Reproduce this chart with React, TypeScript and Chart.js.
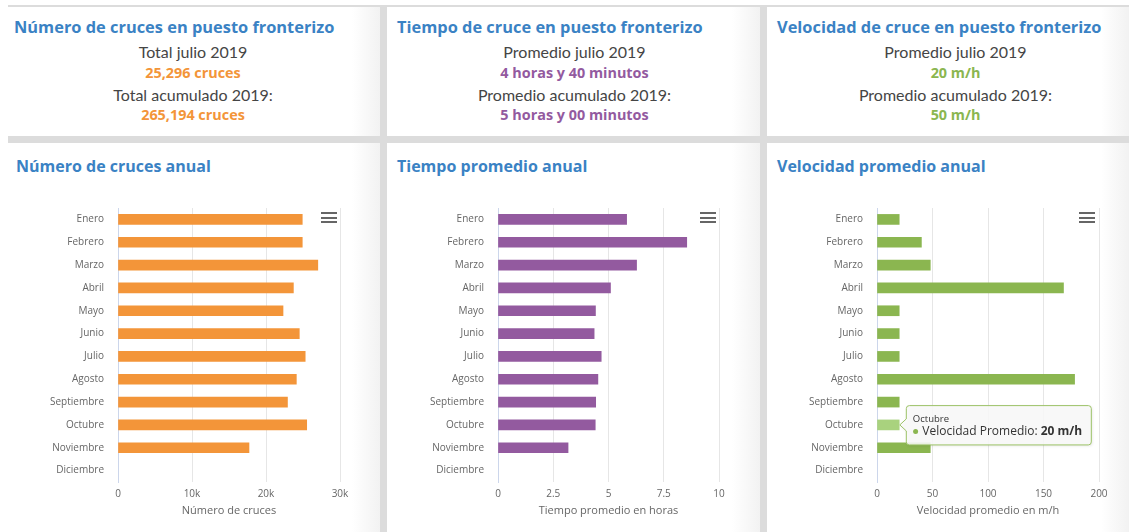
import React, { useEffect, useRef } from "react";
import { Chart, registerables } from "chart.js";

Chart.register(...registerables);

// ---------- data ----------
const months = [
  "Enero", "Febrero", "Marzo", "Abril", "Mayo", "Junio",
  "Julio", "Agosto", "Septiembre", "Octubre", "Noviembre", "Diciembre",
];

const crucesValues = [24900, 24900, 27000, 23700, 22300, 24500, 25296, 24100, 22900, 25500, 17700, null];
const tiempoValues = [5.82, 8.54, 6.27, 5.09, 4.41, 4.35, 4.67, 4.52, 4.42, 4.4, 3.17, null];
const velocidadValues = [20, 40, 48, 168, 20, 20, 20, 178, 20, 20, 48, null];

const crucesTickLabels = ["0", "10k", "20k", "30k"];
const tiempoTickLabels = ["0", "2.5", "5", "7.5", "10"];
const velocidadTickLabels = ["0", "50", "100", "150", "200"];

const tooltipMonthIndex = 9;
const tooltipSeriesName = "Velocidad Promedio";
const tooltipUnit = "m/h";

// ---------- styles ----------
const FONT = "'Open Sans', 'DejaVu Sans', sans-serif";
const CARD_FONT = "Lato, 'Open Sans', sans-serif";
const BLUE = "#3a82c4";
const TEXT = "#454545";

const ORANGE = "#f39539";
const PURPLE = "#935a9f";
const GREEN = "#8bb650";
const GREEN_HOVER = "#a9d27e";

type PanelCfg = {
  values: (number | null)[];
  colors: string | string[];
  max: number;
  step: number;
  tickLabels: string[];
  title: string;
  withTooltip?: boolean;
};

const tipPlugin = {
  id: "fixedTip",
  afterDraw(chart: any) {
    const meta = chart.getDatasetMeta(0);
    const el = meta.data[tooltipMonthIndex];
    if (!el) return;
    const value = chart.data.datasets[0].data[tooltipMonthIndex];
    const ctx: CanvasRenderingContext2D = chart.ctx;
    const tipX = el.x + 0.6;
    const tipY = el.y;
    const bx = tipX + 6.5;
    const by = tipY - 19.3;
    const bw = 185;
    const bh = 39.3;
    const r = 3;
    ctx.save();
    ctx.beginPath();
    ctx.moveTo(bx + r, by);
    ctx.lineTo(bx + bw - r, by);
    ctx.arcTo(bx + bw, by, bx + bw, by + r, r);
    ctx.lineTo(bx + bw, by + bh - r);
    ctx.arcTo(bx + bw, by + bh, bx + bw - r, by + bh, r);
    ctx.lineTo(bx + r, by + bh);
    ctx.arcTo(bx, by + bh, bx, by + bh - r, r);
    ctx.lineTo(bx, tipY + 6);
    ctx.lineTo(tipX, tipY);
    ctx.lineTo(bx, tipY - 6);
    ctx.lineTo(bx, by + r);
    ctx.arcTo(bx, by, bx + r, by, r);
    ctx.closePath();
    ctx.shadowColor = "rgba(0,0,0,0.12)";
    ctx.shadowBlur = 3;
    ctx.shadowOffsetX = 1;
    ctx.shadowOffsetY = 1;
    ctx.fillStyle = "rgba(250,250,250,0.88)";
    ctx.fill();
    ctx.shadowColor = "transparent";
    ctx.strokeStyle = "#9cc266";
    ctx.lineWidth = 1;
    ctx.stroke();

    ctx.textBaseline = "middle";
    ctx.textAlign = "left";
    ctx.fillStyle = "#333";
    ctx.font = `9.5px ${FONT}`;
    ctx.fillText(chart.data.labels[tooltipMonthIndex], bx + 6.5, tipY - 5.3);

    ctx.beginPath();
    ctx.fillStyle = GREEN;
    ctx.arc(bx + 9.3, tipY + 6.6, 2.5, 0, Math.PI * 2);
    ctx.fill();

    ctx.fillStyle = "#333";
    ctx.font = `12px ${FONT}`;
    const label = `${tooltipSeriesName}: `;
    ctx.fillText(label, bx + 16, tipY + 6.6);
    const w = ctx.measureText(label).width;
    ctx.font = `bold 12px ${FONT}`;
    ctx.fillText(`${value} ${tooltipUnit}`, bx + 16 + w, tipY + 6.6);
    ctx.restore();
  },
};

function BarPanel(props: PanelCfg & { left: number; top: number; width: number; height: number }) {
  const ref = useRef<HTMLCanvasElement | null>(null);
  useEffect(() => {
    if (!ref.current) return;
    const p = props;
    const chart = new Chart(ref.current, {
      type: "bar",
      data: {
        labels: months,
        datasets: [
          {
            data: p.values as any,
            backgroundColor: p.colors as any,
            borderWidth: 0,
            barThickness: 10,
          },
        ],
      },
      options: {
        indexAxis: "y",
        animation: false,
        responsive: false,
        maintainAspectRatio: false,
        events: [],
        layout: { padding: { top: 18, right: 20, bottom: 0, left: 0 } },
        plugins: {
          legend: { display: false },
          tooltip: { enabled: false },
          title: { display: false },
        },
        scales: {
          x: {
            type: "linear",
            min: 0,
            max: p.max,
            ticks: {
              stepSize: p.step,
              autoSkip: false,
              maxRotation: 0,
              padding: 6,
              color: "#666",
              font: { family: FONT, size: 10 },
              callback: (_v: any, i: number) => p.tickLabels[i],
            },
            grid: { color: "#e6e6e6", drawTicks: false },
            border: { display: false },
            title: {
              display: true,
              text: p.title,
              color: "#666",
              font: { family: FONT, size: 11 },
              padding: { top: 0, bottom: 4 },
            },
            afterFit: (s: any) => {
              s.height = 39;
              s.paddingLeft = 0;
              s.paddingRight = 0;
            },
          },
          y: {
            grid: { display: false, drawTicks: false },
            border: { display: true, color: "#ccd6eb" },
            ticks: {
              autoSkip: false,
              padding: 14,
              color: "#666",
              font: { family: FONT, size: 10 },
            },
            afterFit: (s: any) => {
              s.width = 110;
              s.paddingTop = 0;
              s.paddingBottom = 0;
            },
          },
        },
      },
      plugins: p.withTooltip ? [tipPlugin] : [],
    } as any);
    return () => chart.destroy();
  }, []);
  return (
    <canvas
      ref={ref}
      width={props.width}
      height={props.height}
      style={{ position: "absolute", left: props.left, top: props.top, width: props.width, height: props.height }}
    />
  );
}

function Txt(props: {
  x: number;
  baseline: number;
  size: number;
  color: string;
  bold?: boolean;
  center?: boolean;
  family?: string;
  children: React.ReactNode;
}) {
  const top = props.baseline - 0.888 * props.size;
  const style: React.CSSProperties = {
    position: "absolute",
    top,
    fontSize: props.size,
    lineHeight: `${props.size}px`,
    fontFamily: props.family || FONT,
    fontWeight: props.bold ? 700 : 400,
    color: props.color,
    whiteSpace: "nowrap",
  };
  if (props.center) {
    style.left = props.x - 300;
    style.width = 600;
    style.textAlign = "center";
  } else {
    style.left = props.x;
  }
  return <div style={style}>{props.children}</div>;
}

function Menu({ x, y }: { x: number; y: number }) {
  const bar = (dy: number) => (
    <div style={{ position: "absolute", left: x, top: y + dy, width: 16, height: 2, background: "#666" }} />
  );
  return (
    <>
      {bar(0)}
      {bar(4.5)}
      {bar(9)}
    </>
  );
}

const cardStyle = (l: number, t: number, w: number, h: number): React.CSSProperties => ({
  position: "absolute",
  left: l,
  top: t,
  width: w,
  height: h,
  background: "linear-gradient(to right, #ffffff calc(100% - 28px), #f2f2f2)",
});

export default function App() {
  useEffect(() => {
    document.body.style.margin = "0";
  }, []);
  return (
    <div style={{ position: "absolute", left: 0, top: 0, width: 1129, height: 532, background: "#fff", overflow: "hidden" }}>
      <div style={{ position: "absolute", left: 8, top: 5, width: 1121, height: 527, background: "#dcdcdc" }} />
      <div style={cardStyle(8, 7, 372, 129)} />
      <div style={cardStyle(387, 7, 373, 129)} />
      <div style={cardStyle(767, 7, 362, 129)} />
      <div style={cardStyle(8, 143, 372, 389)} />
      <div style={cardStyle(387, 143, 373, 389)} />
      <div style={cardStyle(767, 143, 362, 389)} />

      {/* top cards */}
      <Txt x={14} baseline={33.5} size={16.4} color={BLUE} bold>Número de cruces en puesto fronterizo</Txt>
      <Txt x={193} baseline={58.3} size={16} color={TEXT} center family={CARD_FONT}>Total julio 2019</Txt>
      <Txt x={193} baseline={78.3} size={14.4} color={ORANGE} center bold>25,296 cruces</Txt>
      <Txt x={193} baseline={101} size={16} color={TEXT} center family={CARD_FONT}>Total acumulado 2019:</Txt>
      <Txt x={193} baseline={120.7} size={14.4} color={ORANGE} center bold>265,194 cruces</Txt>

      <Txt x={397} baseline={33.5} size={16.4} color={BLUE} bold>Tiempo de cruce en puesto fronterizo</Txt>
      <Txt x={574.5} baseline={58.3} size={16} color={TEXT} center family={CARD_FONT}>Promedio julio 2019</Txt>
      <Txt x={574.5} baseline={78.3} size={14.4} color={PURPLE} center bold>4 horas y 40 minutos</Txt>
      <Txt x={574.5} baseline={101} size={16} color={TEXT} center family={CARD_FONT}>Promedio acumulado 2019:</Txt>
      <Txt x={574.5} baseline={120.7} size={14.4} color={PURPLE} center bold>5 horas y 00 minutos</Txt>

      <Txt x={777} baseline={33.5} size={16.4} color={BLUE} bold>Velocidad de cruce en puesto fronterizo</Txt>
      <Txt x={955.5} baseline={58.3} size={16} color={TEXT} center family={CARD_FONT}>Promedio julio 2019</Txt>
      <Txt x={955.5} baseline={78.3} size={14.4} color={GREEN} center bold>20 m/h</Txt>
      <Txt x={955.5} baseline={101} size={16} color={TEXT} center family={CARD_FONT}>Promedio acumulado 2019:</Txt>
      <Txt x={955.5} baseline={120.7} size={14.4} color={GREEN} center bold>50 m/h</Txt>

      {/* bottom panel titles */}
      <Txt x={16} baseline={172} size={16} color={BLUE} bold>Número de cruces anual</Txt>
      <Txt x={397} baseline={172} size={16} color={BLUE} bold>Tiempo promedio anual</Txt>
      <Txt x={777} baseline={172} size={16} color={BLUE} bold>Velocidad promedio anual</Txt>

      <BarPanel
        left={8}
        top={190}
        width={352}
        height={331}
        values={crucesValues}
        colors={ORANGE}
        max={30000}
        step={10000}
        tickLabels={crucesTickLabels}
        title="Número de cruces"
      />
      <BarPanel
        left={388}
        top={190}
        width={351}
        height={331}
        values={tiempoValues}
        colors={PURPLE}
        max={10}
        step={2.5}
        tickLabels={tiempoTickLabels}
        title="Tiempo promedio en horas"
      />
      <BarPanel
        left={767}
        top={190}
        width={352}
        height={331}
        values={velocidadValues}
        colors={months.map((_, i) => (i === tooltipMonthIndex ? GREEN_HOVER : GREEN))}
        max={200}
        step={50}
        tickLabels={velocidadTickLabels}
        title="Velocidad promedio en m/h"
        withTooltip
      />

      <Menu x={321} y={212} />
      <Menu x={700} y={212} />
      <Menu x={1079} y={212} />
    </div>
  );
}
